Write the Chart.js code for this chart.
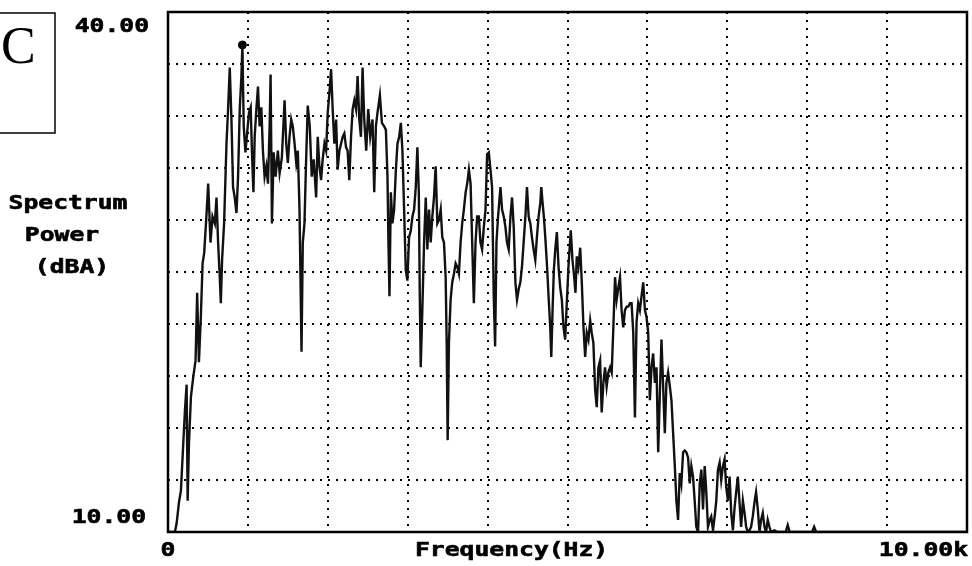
<!DOCTYPE html>
<html>
<head>
<meta charset="utf-8">
<script src="https://cdn.jsdelivr.net/npm/chart.js@4"></script>
<style>
  html, body { margin: 0; padding: 0; background: #fff; }
  #wrap { width: 972px; height: 566px; }
</style>
</head>
<body>
<div id="wrap"><canvas id="spectrum" width="972" height="566"></canvas></div>
<script>
// frequency (Hz) and level (dBA)
const freqHz = [
  0, 87, 108, 137, 162, 191, 212, 233, 246, 262, 287, 315, 345, 365, 387, 411, 433, 453, 483, 503,
  532, 557, 586, 607, 627, 648, 661, 677, 702, 732, 752, 773, 794, 814, 835, 857, 877, 898, 919, 931,
  948, 969, 994, 1014, 1035, 1051, 1069, 1085, 1106, 1126, 1147, 1168, 1188, 1209, 1231, 1251, 1272, 1284, 1301, 1322,
  1347, 1375, 1397, 1425, 1459, 1480, 1500, 1521, 1542, 1562, 1584, 1605, 1625, 1646, 1658, 1671, 1687, 1708, 1729, 1749,
  1774, 1799, 1824, 1854, 1874, 1895, 1916, 1936, 1958, 1979, 1999, 2020, 2041, 2061, 2082, 2104, 2123, 2145, 2166, 2186,
  2207, 2228, 2248, 2269, 2291, 2311, 2332, 2353, 2373, 2394, 2415, 2435, 2456, 2481, 2506, 2531, 2560, 2581, 2602, 2622,
  2652, 2677, 2706, 2727, 2747, 2759, 2772, 2789, 2809, 2830, 2852, 2872, 2893, 2914, 2934, 2955, 2976, 2996, 3017, 3039,
  3059, 3080, 3101, 3121, 3139, 3151, 3163, 3183, 3205, 3226, 3246, 3267, 3288, 3308, 3329, 3350, 3371, 3392, 3413, 3433,
  3454, 3475, 3488, 3500, 3516, 3537, 3557, 3579, 3600, 3620, 3641, 3662, 3682, 3703, 3725, 3745, 3766, 3787, 3807, 3828,
  3849, 3869, 3890, 3911, 3931, 3953, 3974, 3994, 4015, 4036, 4056, 4077, 4094, 4111, 4131, 4161, 4181, 4202, 4223, 4243,
  4264, 4286, 4306, 4327, 4348, 4368, 4389, 4410, 4430, 4451, 4473, 4493, 4514, 4535, 4555, 4576, 4597, 4617, 4638, 4660,
  4672, 4688, 4704, 4722, 4742, 4763, 4784, 4797, 4813, 4829, 4847, 4867, 4888, 4909, 4929, 4950, 4971, 4991, 5012, 5041,
  5062, 5084, 5100, 5116, 5137, 5159, 5179, 5200, 5221, 5241, 5262, 5284, 5303, 5324, 5346, 5366, 5387, 5408, 5428, 5449,
  5470, 5490, 5511, 5533, 5553, 5574, 5595, 5615, 5636, 5657, 5677, 5698, 5719, 5740, 5761, 5782, 5802, 5823, 5844, 5864,
  5885, 5906, 5926, 5948, 5969, 5989, 6010, 6031, 6051, 6072, 6094, 6114, 6135, 6156, 6176, 6197, 6218, 6238, 6259, 6281,
  6301, 6322, 6343, 6363, 6384, 6405, 6425, 6447, 6468, 6488, 6509, 6530, 6550, 6571, 6592, 6612, 6634, 6655, 6675, 6696,
  6717, 6737, 6758, 6780, 6799, 6821, 6842, 6862, 6883, 6904, 6924, 6945, 6966, 6986, 7008, 7029, 7049, 7070, 7091, 7111,
  7132, 7153, 7173, 7195, 7216, 7236, 7257, 7278, 7298, 7319, 7340, 7360, 7382, 7403, 7423, 7444, 7465, 7485, 7506, 7527,
  7547, 7590, 7631, 7731, 7756, 7781, 8062, 8087, 8112, 10000
];
const levelDb = [
  10.0, 10.0, 10.5, 11.7, 12.4, 15.1, 17.0, 18.5, 11.8, 15.1, 17.8, 18.9, 19.9, 23.8, 19.8, 22.4, 25.5, 26.1, 28.4, 30.1,
  26.7, 28.2, 27.8, 29.3, 26.7, 24.7, 23.2, 25.7, 27.8, 32.4, 34.4, 36.8, 33.8, 29.9, 29.3, 28.4, 30.5, 34.4, 36.3, 38.1,
  33.4, 31.9, 33.2, 34.2, 34.5, 31.9, 29.6, 32.8, 34.4, 35.7, 33.4, 34.5, 32.0, 30.5, 31.1, 30.1, 33.4, 36.4, 27.8, 31.9,
  30.5, 32.0, 30.7, 31.6, 34.9, 32.4, 31.3, 32.8, 33.8, 33.4, 32.4, 31.3, 32.0, 28.6, 24.7, 20.4, 26.7, 27.8, 31.5, 34.6,
  33.4, 30.5, 31.5, 29.3, 32.8, 31.1, 30.3, 31.5, 32.4, 32.0, 34.2, 35.3, 36.7, 34.4, 32.4, 33.8, 30.9, 32.0, 32.4, 32.8,
  33.0, 32.2, 32.0, 30.3, 32.8, 34.4, 34.9, 34.4, 36.3, 33.8, 32.8, 36.8, 33.8, 32.0, 34.4, 32.8, 33.8, 29.6, 33.4, 34.2,
  35.2, 33.6, 33.4, 33.2, 30.5, 26.7, 23.6, 29.6, 27.8, 28.6, 30.9, 32.4, 32.8, 33.6, 32.0, 28.6, 25.1, 24.5, 27.0, 27.4,
  28.2, 28.6, 29.9, 32.2, 29.6, 23.8, 19.5, 22.8, 26.7, 29.3, 26.3, 28.6, 26.7, 28.2, 29.3, 31.1, 27.8, 28.0, 28.6, 27.0,
  26.7, 24.7, 20.9, 15.3, 20.9, 23.4, 24.4, 24.9, 25.5, 25.3, 24.9, 26.7, 27.8, 28.6, 29.6, 30.1, 30.9, 30.1, 26.7, 23.2,
  26.7, 28.2, 28.2, 26.7, 26.3, 27.6, 28.6, 31.8, 31.9, 30.9, 29.9, 23.6, 20.7, 26.7, 28.2, 29.9, 28.6, 28.2, 27.6, 26.7,
  26.3, 28.2, 29.3, 27.6, 24.4, 23.4, 24.0, 24.4, 25.3, 26.7, 28.2, 29.9, 28.2, 27.8, 27.0, 26.3, 25.7, 27.0, 28.2, 29.0,
  29.9, 29.0, 28.2, 27.0, 25.5, 23.6, 21.8, 20.1, 22.8, 25.1, 26.3, 27.3, 25.3, 24.1, 23.4, 21.8, 21.1, 23.2, 25.3, 27.4,
  25.7, 24.7, 23.8, 25.9, 25.3, 26.4, 24.4, 21.8, 20.1, 21.5, 21.1, 22.2, 21.5, 20.9, 18.2, 17.2, 19.5, 19.9, 16.9, 18.6,
  19.5, 18.4, 19.2, 19.5, 19.2, 21.8, 24.7, 23.4, 24.1, 24.7, 22.8, 21.8, 22.8, 23.0, 23.0, 23.2, 23.2, 21.5, 16.6, 22.1,
  23.2, 22.8, 23.6, 24.4, 22.8, 22.4, 21.5, 17.6, 19.5, 20.3, 18.6, 19.5, 14.6, 18.0, 21.1, 18.4, 15.7, 18.6, 19.2, 18.4,
  17.6, 15.7, 13.8, 11.8, 10.7, 13.4, 12.8, 14.6, 14.7, 14.6, 14.3, 12.8, 13.8, 13.2, 11.8, 10.3, 10.0, 12.8, 13.6, 11.3,
  13.8, 12.3, 10.3, 10.7, 10.9, 10.1, 10.9, 11.8, 13.6, 14.0, 13.0, 13.8, 14.2, 12.6, 11.8, 13.2, 11.1, 10.1, 11.4, 12.3,
  13.2, 11.7, 10.3, 11.8, 11.1, 10.3, 10.0, 10.1, 10.3, 10.9, 11.7, 12.3, 11.3, 10.0, 10.7, 11.1, 10.3, 10.0, 10.7, 10.3,
  10.0, 10.1, 10.0, 10.0, 10.4, 10.0, 10.0, 10.3, 10.0, 10.0
];

// cursor dot at the peak
const cursorHz = [931];
const cursorDb = [38.1];

// axis settings
const freqMin = 0, freqMax = 10000, freqStep = 1000;
const dbMin = 10, dbMax = 40, dbStep = 3;
const yTickLabels = ["40.00", "10.00"];
const xTickLabels = ["0", "10.00k"];
const xTitle = "Frequency(Hz)";
const yTitleLines = ["Spectrum", "Power", "(dBA)"];
const panelLetter = "C";

const monoFont = "bold 19px 'DejaVu Sans Mono'";

// wide blocky text like the old plotter font
function wideText(ctx, text, x, y, align) {
  ctx.save();
  ctx.translate(x, y);
  ctx.scale(1.3, 1);
  ctx.textAlign = align;
  ctx.textBaseline = "middle";
  ctx.fillText(text, 0, 0);
  ctx.lineWidth = 0.6;
  ctx.strokeText(text, 0, 0);
  ctx.restore();
}

const frameAndLabels = {
  id: "frameAndLabels",
  afterDraw(chart) {
    const { ctx, chartArea: a, scales } = chart;
    const xs = scales.x, ys = scales.y;
    ctx.save();
    // plot frame
    ctx.strokeStyle = "#000";
    ctx.lineWidth = 2.5;
    ctx.strokeRect(a.left, a.top, a.right - a.left, a.bottom - a.top);

    ctx.fillStyle = "#000";
    ctx.font = monoFont;
    // y tick labels (top / bottom only)
    wideText(ctx, yTickLabels[0], 149, ys.getPixelForValue(dbMax) + 15, "right");
    wideText(ctx, yTickLabels[1], 146, ys.getPixelForValue(dbMin) - 14, "right");
    // x tick labels
    wideText(ctx, xTickLabels[0], xs.getPixelForValue(freqMin), a.bottom + 19, "center");
    wideText(ctx, xTickLabels[1], xs.getPixelForValue(freqMax) + 1, a.bottom + 19, "right");
    // axis titles
    wideText(ctx, xTitle, xs.getPixelForValue(4300), a.bottom + 19, "center");
    const yRows = [204, 236, 268];
    const yCols = [68, 62, 72];
    yTitleLines.forEach((t, i) => wideText(ctx, t, yCols[i], yRows[i], "center"));

    // panel letter box
    ctx.lineWidth = 1.5;
    ctx.strokeRect(-2, 13, 57, 120);
    ctx.font = "52px 'Liberation Serif'";
    ctx.textAlign = "left";
    ctx.textBaseline = "alphabetic";
    ctx.fillText(panelLetter, 1, 63);
    ctx.restore();
  }
};

const ctx = document.getElementById("spectrum").getContext("2d");
new Chart(ctx, {
  type: "line",
  data: {
    datasets: [
      {
        data: freqHz.map((f, i) => ({ x: f, y: levelDb[i] })),
        borderColor: "#111",
        borderWidth: 2.4,
        pointRadius: 0,
        tension: 0,
      },
      {
        data: cursorHz.map((f, i) => ({ x: f, y: cursorDb[i] })),
        showLine: false,
        pointRadius: 4,
        pointBackgroundColor: "#000",
        pointBorderColor: "#000",
      },
    ],
  },
  options: {
    responsive: false,
    animation: false,
    layout: { padding: { left: 168, right: 2, top: 12, bottom: 34 } },
    plugins: { legend: { display: false }, tooltip: { enabled: false } },
    scales: {
      x: {
        type: "linear",
        min: freqMin,
        max: freqMax,
        ticks: { display: false, stepSize: freqStep },
        grid: { color: "#000", lineWidth: 2, drawTicks: false },
        border: { display: false, dash: [2, 6] },
      },
      y: {
        min: dbMin,
        max: dbMax,
        ticks: { display: false, stepSize: dbStep },
        grid: { color: "#000", lineWidth: 2, drawTicks: false },
        border: { display: false, dash: [2, 6] },
      },
    },
  },
  plugins: [frameAndLabels],
});
</script>
</body>
</html>
